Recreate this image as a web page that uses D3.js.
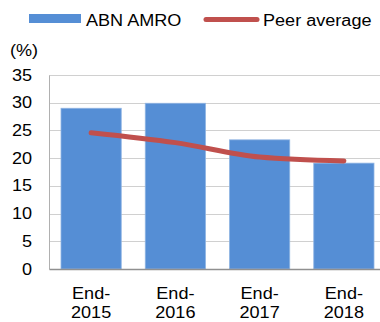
<!DOCTYPE html>
<html>
<head>
<meta charset="utf-8">
<script src="https://cdn.jsdelivr.net/npm/d3@7"></script>
<style>
  body { margin: 0; background: #fff; }
  svg { display: block; font-family: "Liberation Sans", Arial, sans-serif; }
</style>
</head>
<body>
<div id="chart"></div>
<script>
// Data
const categories = ["End-2015", "End-2016", "End-2017", "End-2018"];
const abnAmro = [29.0, 29.9, 23.3, 19.1];
const peerAverage = [24.6, 22.8, 20.2, 19.5];
const yTicks = [0, 5, 10, 15, 20, 25, 30, 35];

const W = 380, H = 322;
const margin = { top: 75, right: -6, bottom: 53, left: 49 };
const width = W - margin.left - margin.right,
      height = H - margin.top - margin.bottom;
const stretch = 1.13; // text in the reference is a bit wider than Arial

const svg = d3.select("#chart")
    .append("svg")
    .attr("width", W)
    .attr("height", H);

const g = svg.append("g")
    .attr("transform", `translate(${margin.left},${margin.top})`);

// Place a text at (x, y), stretched horizontally
function addText(parent, x, y, str, anchor) {
    return parent.append("text")
        .attr("transform", `translate(${x},${y}) scale(${stretch},1)`)
        .attr("text-anchor", anchor || "start")
        .attr("font-size", 16)
        .attr("fill", "#000")
        .text(str);
}

// Scales
const x = d3.scaleBand()
    .domain(categories)
    .range([0, width])
    .paddingInner(0.285)
    .paddingOuter(0.1425);

const y = d3.scaleLinear()
    .domain([0, 35])
    .range([height, 0]);

// Gridlines
g.append("g")
    .selectAll("line")
    .data(yTicks.filter(d => d > 0))
    .enter()
    .append("line")
    .attr("x1", 0)
    .attr("x2", width)
    .attr("y1", d => Math.round(y(d)) + 0.5)
    .attr("y2", d => Math.round(y(d)) + 0.5)
    .attr("stroke", "#d0d0d0")
    .attr("stroke-width", 1);

// Y axis
const yAxis = g.append("g")
    .call(d3.axisLeft(y).tickValues(yTicks).tickSize(0).tickPadding(15));
yAxis.select(".domain").attr("stroke", "#b0b0b0");
yAxis.selectAll("text")
    .attr("font-size", 16)
    .attr("fill", "#000")
    .attr("font-family", "Liberation Sans, Arial, sans-serif")
    .attr("transform", `scale(${stretch},1)`);

// Bars
g.selectAll("rect.bar")
    .data(abnAmro)
    .enter()
    .append("rect")
    .attr("class", "bar")
    .attr("x", (d, i) => x(categories[i]))
    .attr("y", d => y(d))
    .attr("width", x.bandwidth())
    .attr("height", d => height - y(d))
    .attr("fill", "#558ed5")
    .attr("stroke", "#8fb4e3")
    .attr("stroke-width", 0.8);

// X axis baseline
const xAxis = g.append("g")
    .attr("transform", `translate(0,${height})`)
    .call(d3.axisBottom(x).tickSize(0).tickFormat(""));
xAxis.select(".domain").attr("stroke", "#909090").attr("stroke-width", 1.5);

// Two-line category labels
const labels = g.append("g").attr("transform", `translate(0,${height})`);
categories.forEach(c => {
    const parts = c.split("-");
    const cx = x(c) + x.bandwidth() / 2;
    addText(labels, cx, 30, parts[0] + "-", "middle");
    addText(labels, cx, 49, parts[1], "middle");
});

// Peer average line
const line = d3.line()
    .x((d, i) => x(categories[i]) + x.bandwidth() / 2)
    .y(d => y(d))
    .curve(d3.curveMonotoneX);

g.append("path")
    .datum(peerAverage)
    .attr("fill", "none")
    .attr("stroke", "#c0504d")
    .attr("stroke-width", 5)
    .attr("stroke-linecap", "round")
    .attr("d", line);

// Unit label
addText(svg, 10, 56, "(%)");

// Legend
const legend = svg.append("g");
legend.append("rect")
    .attr("x", 29).attr("y", 14)
    .attr("width", 52).attr("height", 9)
    .attr("fill", "#558ed5");
addText(legend, 86, 26, "ABN AMRO");
legend.append("line")
    .attr("x1", 206).attr("x2", 257)
    .attr("y1", 19.5).attr("y2", 19.5)
    .attr("stroke", "#c0504d")
    .attr("stroke-width", 5)
    .attr("stroke-linecap", "round");
addText(legend, 263, 26, "Peer average");
</script>
</body>
</html>
